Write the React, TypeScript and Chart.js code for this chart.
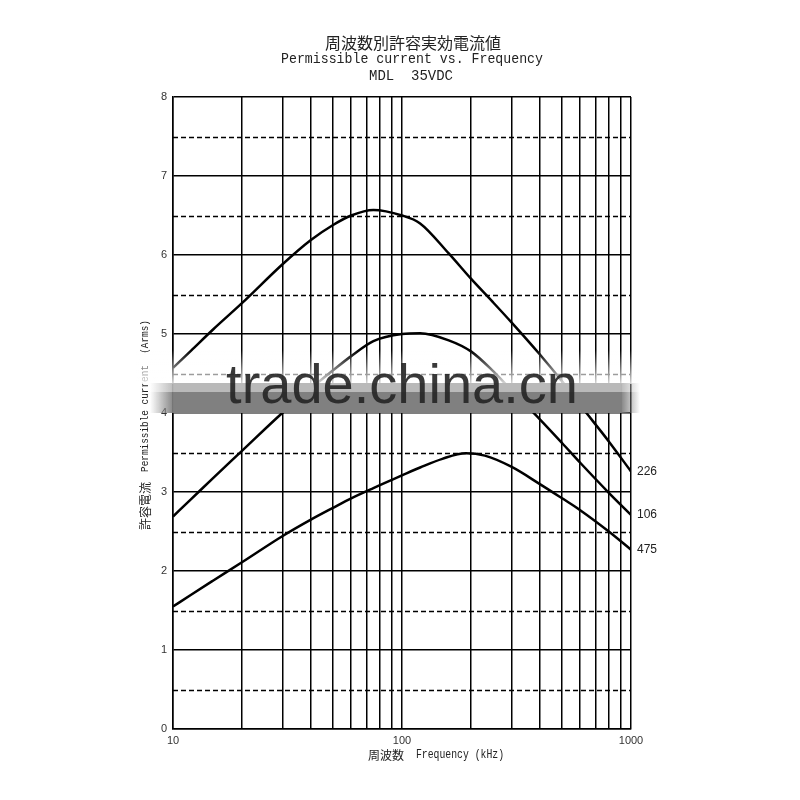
import React, { useEffect, useRef } from "react";
import { Chart, registerables } from "chart.js";

Chart.register(...registerables);

// ---- data ----
const freq226 = [10, 12, 15, 20, 30, 40, 50, 60, 75, 100, 120, 160, 200, 250, 300, 400, 500, 600, 800, 1000];
const current226 = [4.57, 4.79, 5.06, 5.39, 5.88, 6.19, 6.38, 6.5, 6.57, 6.5, 6.4, 6.02, 5.7, 5.4, 5.15, 4.74, 4.4, 4.1, 3.64, 3.26];

const freq106 = [10, 12, 15, 20, 30, 40, 50, 60, 75, 100, 120, 160, 200, 250, 300, 400, 500, 600, 800, 1000];
const current106 = [2.69, 2.91, 3.18, 3.52, 4.0, 4.31, 4.54, 4.72, 4.91, 5.0, 5.01, 4.92, 4.78, 4.53, 4.29, 3.92, 3.62, 3.37, 2.99, 2.71];

const freq475 = [10, 12, 15, 20, 30, 40, 50, 60, 75, 100, 120, 150, 190, 230, 300, 400, 500, 600, 800, 1000];
const current475 = [1.55, 1.7, 1.88, 2.11, 2.44, 2.65, 2.8, 2.92, 3.05, 3.21, 3.31, 3.42, 3.49, 3.46, 3.32, 3.1, 2.92, 2.77, 2.5, 2.27];

const seriesLabels = ["226", "106", "475"];
const xTickValues = [10, 20, 30, 40, 50, 60, 70, 80, 90, 100, 200, 300, 400, 500, 600, 700, 800, 900, 1000];
const xTickLabels = ["10", "100", "1000"];
const yHalfLines = [0.5, 1.5, 2.5, 3.5, 4.5, 5.5, 6.5, 7.5];

const titleJa = "周波数別許容実効電流値";
const titleEn = "Permissible current vs. Frequency";
const titleModel = "MDL  35VDC";
const xTitleJa = "周波数";
const xTitleEn = "Frequency (kHz)";
const yTitleJa = "許容電流";
const yTitleEn = "Permissible current  (Arms)";
const watermark = "trade.china.cn";

const toPoints = (xs: number[], ys: number[]) => xs.map((x, i) => ({ x, y: ys[i] }));

const decorPlugin = {
  id: "decor",
  beforeDatasetsDraw(chart: any) {
    const { ctx, chartArea, scales } = chart;
    ctx.save();
    ctx.strokeStyle = "#000";
    ctx.lineWidth = 1.5;
    ctx.setLineDash([5, 3]);
    yHalfLines.forEach((v) => {
      const y = Math.round(scales.y.getPixelForValue(v)) + 0.5;
      ctx.beginPath();
      ctx.moveTo(chartArea.left, y);
      ctx.lineTo(chartArea.right, y);
      ctx.stroke();
    });
    ctx.restore();
  },
  afterDatasetsDraw(chart: any) {
    const { ctx, chartArea, scales } = chart;
    const lastVals = [current226, current106, current475].map((a) => a[a.length - 1]);
    ctx.save();
    ctx.fillStyle = "#222";
    ctx.font = "12px 'Liberation Sans', sans-serif";
    ctx.textAlign = "left";
    ctx.textBaseline = "middle";
    seriesLabels.forEach((lab, i) => {
      ctx.fillText(lab, chartArea.right + 6, scales.y.getPixelForValue(lastVals[i]));
    });
    ctx.restore();
  },
  afterDraw(chart: any) {
    const { ctx, chartArea } = chart;
    ctx.save();
    ctx.fillStyle = "#222";
    ctx.textAlign = "center";
    ctx.textBaseline = "middle";
    // titles
    ctx.font = "16px 'Noto Sans CJK JP', sans-serif";
    ctx.fillText(titleJa, 413, 43, 176);
    ctx.font = "14px 'Liberation Mono', monospace";
    ctx.fillText(titleEn, 412, 59, 262);
    ctx.fillText(titleModel, 411, 76);

    // x title
    ctx.textAlign = "left";
    ctx.font = "12px 'Noto Sans CJK JP', sans-serif";
    ctx.fillText(xTitleJa, 368, 755, 37);
    ctx.font = "12px 'Liberation Mono', monospace";
    ctx.fillText(xTitleEn, 416, 755, 88);

    // y title (rotated)
    ctx.save();
    ctx.translate(145, 530);
    ctx.rotate(-Math.PI / 2);
    ctx.textAlign = "left";
    ctx.font = "12px 'Noto Sans CJK JP', sans-serif";
    ctx.fillText(yTitleJa, 0, 0, 48);
    ctx.font = "11px 'Liberation Mono', monospace";
    ctx.fillText(yTitleEn, 58, 0, 152);
    ctx.restore();

    // watermark
    const fadeTop = ctx.createLinearGradient(0, 350, 0, 384);
    fadeTop.addColorStop(0, "rgba(255,255,255,0)");
    fadeTop.addColorStop(1, "rgba(255,255,255,0.85)");
    ctx.fillStyle = fadeTop;
    ctx.fillRect(136, 350, 504, 34);

    const hGrad = ctx.createLinearGradient(150, 0, 640, 0);
    hGrad.addColorStop(0, "rgba(128,128,128,0)");
    hGrad.addColorStop(0.05, "rgba(128,128,128,1)");
    hGrad.addColorStop(0.96, "rgba(128,128,128,1)");
    hGrad.addColorStop(1, "rgba(128,128,128,0)");
    ctx.fillStyle = hGrad;
    ctx.fillRect(150, 392, 490, 21);

    const hGrad2 = ctx.createLinearGradient(150, 0, 640, 0);
    hGrad2.addColorStop(0, "rgba(185,185,185,0)");
    hGrad2.addColorStop(0.05, "rgba(185,185,185,1)");
    hGrad2.addColorStop(0.96, "rgba(185,185,185,1)");
    hGrad2.addColorStop(1, "rgba(185,185,185,0)");
    ctx.fillStyle = hGrad2;
    ctx.fillRect(150, 383, 490, 9);

    ctx.textAlign = "center";
    ctx.textBaseline = "alphabetic";
    ctx.font = "56px 'Liberation Sans', Arial, sans-serif";
    ctx.fillStyle = "rgba(35,35,35,0.9)";
    ctx.fillText(watermark, (chartArea.left + chartArea.right) / 2, 403, 352);
    ctx.restore();
  },
};

export default function App() {
  const ref = useRef<HTMLCanvasElement | null>(null);

  useEffect(() => {
    document.body.style.margin = "0";
    if (!ref.current) return;
    const lineStyle = {
      borderColor: "#000",
      borderWidth: 2.5,
      pointRadius: 0,
      showLine: true,
      fill: false,
      cubicInterpolationMode: "monotone" as const,
    };
    const chart = new Chart(ref.current, {
      type: "scatter",
      data: {
        datasets: [
          { label: seriesLabels[0], data: toPoints(freq226, current226), ...lineStyle },
          { label: seriesLabels[1], data: toPoints(freq106, current106), ...lineStyle },
          { label: seriesLabels[2], data: toPoints(freq475, current475), ...lineStyle },
        ],
      },
      options: {
        responsive: false,
        animation: false,
        events: [],
        layout: { padding: { left: 133, right: 169, top: 97, bottom: 41 } },
        plugins: { legend: { display: false }, tooltip: { enabled: false }, title: { display: false } },
        scales: {
          x: {
            type: "logarithmic",
            min: 10,
            max: 1000,
            afterBuildTicks: (s: any) => {
              s.ticks = xTickValues.map((v) => ({ value: v }));
            },
            afterFit: (s: any) => {
              s.height = 30;
            },
            ticks: {
              autoSkip: false,
              maxRotation: 0,
              padding: 5,
              color: "#333",
              font: { size: 11, family: "'Liberation Sans', sans-serif" },
              callback: (v: any) => (xTickLabels.includes(String(v)) ? String(v) : ""),
            },
            grid: { color: "#000", lineWidth: 1.5, drawTicks: false },
            border: { color: "#000", width: 1.5 },
          },
          y: {
            min: 0,
            max: 8,
            afterFit: (s: any) => {
              s.width = 40;
            },
            ticks: {
              stepSize: 1,
              padding: 6,
              color: "#333",
              font: { size: 11, family: "'Liberation Sans', sans-serif" },
            },
            grid: { color: "#000", lineWidth: 1.5, drawTicks: false },
            border: { color: "#000", width: 1.5 },
          },
        },
      },
      plugins: [decorPlugin],
    });
    return () => chart.destroy();
  }, []);

  return (
    <div style={{ width: 800, height: 800 }}>
      <canvas ref={ref} width={800} height={800} />
    </div>
  );
}
